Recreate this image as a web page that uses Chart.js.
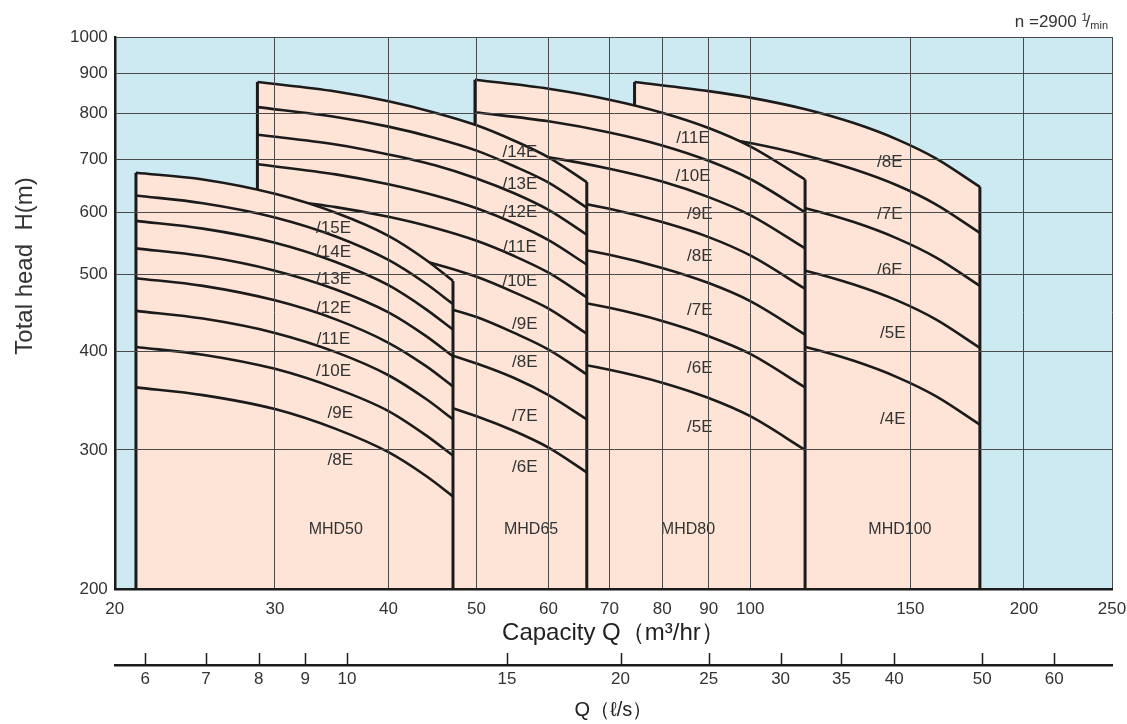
<!DOCTYPE html>
<html lang="en">
<head>
<meta charset="UTF-8">
<title>MHD performance curves</title>
<script src="https://cdn.jsdelivr.net/npm/chart.js@4"></script>
<style>
    body { margin: 0; background: #ffffff; }
    #wrap { width: 1127px; height: 724px; position: relative; }
</style>
</head>
<body>
<div id="wrap"><canvas id="chart"></canvas></div>
<script>
// axis ticks
const xTicks = [20, 30, 40, 50, 60, 70, 80, 90, 100, 150, 200, 250];
const yTicks = [200, 300, 400, 500, 600, 700, 800, 900, 1000];
const lpsTicks = [6, 7, 8, 9, 10, 15, 20, 25, 30, 35, 40, 50, 60];

// MHD50  (Q in m3/hr, H in m, one row per stage count)
const mhd50Q = [21.1, 25, 30, 35, 40, 44, 47.1];
const mhd50Stages = ['8E', '9E', '10E', '11E', '12E', '13E', '14E', '15E'];
const mhd50H = [
    [360, 352, 338, 319, 298, 278, 262],
    [405, 396, 380, 359, 336, 313, 295],
    [450, 440, 422, 399, 373, 348, 328],
    [495, 484, 464, 439, 410, 383, 361],
    [540, 528, 506, 479, 448, 418, 394],
    [585, 572, 549, 519, 485, 452, 426],
    [630, 616, 591, 559, 522, 487, 459],
    [673, 660, 633, 599, 560, 522, 491]
];
const mhd50LabelQ = [35.4, 35.4, 34.8, 34.8, 34.8, 34.8, 34.8, 34.8];
const mhd50LabelH = [291, 334, 377, 414, 454, 494, 533, 573];

// MHD65
const mhd65Q = [28.7, 35, 40, 45, 50, 55, 60, 66.1];
const mhd65Stages = ['6E', '7E', '8E', '9E', '10E', '11E', '12E', '13E', '14E'];
const mhd65H = [
    [376, 365, 355, 344, 331, 317, 302, 281],
    [439, 426, 414, 401, 386, 370, 352, 328],
    [502, 487, 474, 458, 442, 422, 402, 374],
    [564, 548, 533, 516, 497, 475, 453, 421],
    [627, 609, 592, 573, 552, 528, 503, 468],
    [690, 670, 651, 630, 607, 581, 553, 515],
    [752, 731, 710, 688, 662, 634, 604, 562],
    [815, 792, 770, 745, 718, 686, 654, 608],
    [877, 853, 829, 802, 773, 739, 704, 655]
];
const mhd65LabelQ = [56.5, 56.5, 56.5, 56.5, 55.8, 55.8, 55.8, 55.8, 55.8];
const mhd65LabelH = [285, 331, 387, 433, 490, 542, 599, 650, 715];

// MHD80
const mhd80Q = [49.8, 60, 70, 80, 90, 100, 114.9];
const mhd80Stages = ['5E', '6E', '7E', '8E', '9E', '10E', '11E'];
const mhd80H = [
    [402, 391, 379, 365, 349, 331, 300],
    [482, 469, 454, 437, 418, 397, 360],
    [562, 547, 530, 510, 488, 463, 420],
    [642, 626, 606, 583, 558, 529, 480],
    [723, 704, 681, 656, 627, 595, 540],
    [803, 782, 757, 729, 697, 661, 600],
    [883, 860, 833, 802, 767, 727, 660]
];
const mhd80LabelQ = [88, 88, 88, 88, 88, 86.5, 86.5];
const mhd80LabelH = [320, 381, 451, 528, 597, 667, 745];

// MHD100
const mhd100Q = [74.6, 90, 100, 115, 130, 145, 160, 178.9];
const mhd100Stages = ['4E', '5E', '6E', '7E', '8E'];
const mhd100H = [
    [438, 427, 419, 405, 389, 371, 351, 323],
    [548, 534, 524, 506, 486, 464, 439, 404],
    [658, 641, 629, 607, 583, 556, 526, 484],
    [767, 748, 734, 708, 680, 649, 614, 565],
    [877, 854, 838, 810, 778, 742, 702, 646]
];
const mhd100LabelQ = [143.5, 143.5, 142.4, 142.4, 142.4];
const mhd100LabelH = [328, 421, 507, 597, 693];

const modelNames = ['MHD50', 'MHD65', 'MHD80', 'MHD100'];
const modelNameQ = [35.0, 57.4, 85.4, 146.1];
const modelNameH = [238, 238, 238, 238];

const FONT = '"Liberation Sans", Arial, sans-serif';
const INK = '#1b1b1b';
const TEXT = '#333333';
const SKY = '#cde9f1';
const PEACH = '#fde4d6';
const GRID = '#4a4a4a';

// front model first: chart.js draws dataset 0 on top
const models = [
    { q: mhd50Q, heads: mhd50H, stages: mhd50Stages, lq: mhd50LabelQ, lh: mhd50LabelH },
    { q: mhd65Q, heads: mhd65H, stages: mhd65Stages, lq: mhd65LabelQ, lh: mhd65LabelH },
    { q: mhd80Q, heads: mhd80H, stages: mhd80Stages, lq: mhd80LabelQ, lh: mhd80LabelH },
    { q: mhd100Q, heads: mhd100H, stages: mhd100Stages, lq: mhd100LabelQ, lh: mhd100LabelH }
];

function points(q, h) {
    return q.map((v, i) => ({ x: v, y: h[i] }));
}

const datasets = [];
models.forEach(m => {
    const top = m.heads[m.heads.length - 1];
    const qMin = m.q[0];
    const qMax = m.q[m.q.length - 1];
    m.heads.forEach(h => {
        datasets.push({
            data: points(m.q, h),
            borderColor: INK,
            borderWidth: 2.6,
            cubicInterpolationMode: 'monotone'
        });
    });
    datasets.push({
        data: [{ x: qMin, y: yTicks[0] }, { x: qMin, y: top[0] }],
        borderColor: INK,
        borderWidth: 3
    });
    datasets.push({
        data: [{ x: qMax, y: top[top.length - 1] }, { x: qMax, y: yTicks[0] }],
        borderColor: INK,
        borderWidth: 3
    });
    datasets.push({
        data: points(m.q, top),
        borderColor: 'rgba(0,0,0,0)',
        borderWidth: 0,
        backgroundColor: PEACH,
        fill: 'start',
        cubicInterpolationMode: 'monotone'
    });
});
datasets.forEach(d => { d.xAxisID = 'x'; d.yAxisID = 'y'; d.pointRadius = 0; d.pointHoverRadius = 0; });

const backdrop = {
    id: 'backdrop',
    beforeDraw(chart) {
        const { ctx, chartArea: a } = chart;
        ctx.save();
        ctx.fillStyle = SKY;
        ctx.fillRect(a.left, a.top, a.right - a.left, a.bottom - a.top);
        ctx.restore();
    }
};

const curveLabels = {
    id: 'curveLabels',
    afterDatasetsDraw(chart) {
        const { ctx, scales: { x, y } } = chart;
        ctx.save();
        ctx.fillStyle = TEXT;
        ctx.font = '17px ' + FONT;
        ctx.textAlign = 'center';
        ctx.textBaseline = 'middle';
        models.forEach(m => {
            m.stages.forEach((s, i) => {
                ctx.fillText('/' + s, x.getPixelForValue(m.lq[i]), y.getPixelForValue(m.lh[i]));
            });
        });
        ctx.font = '16px ' + FONT;
        modelNames.forEach((n, i) => {
            ctx.fillText(n, x.getPixelForValue(modelNameQ[i]), y.getPixelForValue(modelNameH[i]));
        });
        ctx.restore();
    }
};

const extras = {
    id: 'extras',
    afterDraw(chart) {
        const { ctx, chartArea: a, scales: { x2 } } = chart;
        ctx.save();
        // l/s scale ticks point upwards from its line
        ctx.strokeStyle = INK;
        ctx.lineWidth = 1.5;
        lpsTicks.forEach(v => {
            const px = Math.round(x2.getPixelForValue(v)) + 0.5;
            ctx.beginPath();
            ctx.moveTo(px, x2.top);
            ctx.lineTo(px, x2.top - 12);
            ctx.stroke();
        });

        ctx.fillStyle = TEXT;
        ctx.font = '24px ' + FONT;
        ctx.textAlign = 'center';
        ctx.textBaseline = 'middle';
        ctx.save();
        ctx.translate(25, a.top + 229);
        ctx.rotate(-Math.PI / 2);
        ctx.fillText('Total head  H(m)', 0, 0);
        ctx.restore();

        // speed note, n = 2900 1/min
        ctx.textAlign = 'left';
        ctx.textBaseline = 'alphabetic';
        const main = 'n =2900 ';
        ctx.font = '17px ' + FONT;
        const w1 = ctx.measureText(main).width;
        const w3 = ctx.measureText('/').width;
        ctx.font = '11px ' + FONT;
        const w2 = ctx.measureText('1').width;
        const w4 = ctx.measureText('min').width;
        let sx = a.right - (w1 + w2 + w3 + w4) - 2;
        ctx.font = '17px ' + FONT;
        ctx.fillText(main, sx, 27);
        sx += w1;
        ctx.font = '11px ' + FONT;
        ctx.fillText('1', sx, 21);
        sx += w2 - 2;
        ctx.font = '17px ' + FONT;
        ctx.fillText('/', sx, 27);
        sx += w3;
        ctx.font = '11px ' + FONT;
        ctx.fillText('min', sx, 29);
        ctx.restore();
    }
};

function fixedTicks(list) {
    return scale => { scale.ticks = list.map(v => ({ value: v })); };
}

const tickFont = { size: 17, family: FONT, lineHeight: 1 };

new Chart(document.getElementById('chart'), {
    type: 'scatter',
    data: { datasets: datasets },
    options: {
        responsive: true,
        maintainAspectRatio: false,
        animation: false,
        events: [],
        showLine: true,
        layout: { padding: { left: 63, right: 15, top: 37, bottom: 2 } },
        plugins: {
            legend: { display: false },
            tooltip: { enabled: false }
        },
        scales: {
            x: {
                type: 'logarithmic',
                position: 'bottom',
                min: 20,
                max: 250,
                afterBuildTicks: fixedTicks(xTicks),
                ticks: {
                    callback: v => String(v),
                    autoSkip: false,
                    maxRotation: 0,
                    padding: 0,
                    color: TEXT,
                    // tall line box keeps the labels low without widening the right margin
                    font: { size: 17, family: FONT, lineHeight: 2.353 }
                },
                grid: { color: GRID, lineWidth: 1, drawTicks: false, z: 1 },
                border: { color: INK, width: 2.5, z: 2 },
                title: {
                    display: true,
                    text: 'Capacity Q（m³/hr）',
                    color: '#222',
                    font: { size: 24, family: FONT, lineHeight: 1 },
                    padding: { top: -8, bottom: 20 }
                }
            },
            x2: {
                type: 'logarithmic',
                position: 'bottom',
                weight: 1,
                min: 20 / 3.6,
                max: 250 / 3.6,
                afterBuildTicks: fixedTicks(lpsTicks),
                ticks: {
                    callback: v => String(v),
                    autoSkip: false,
                    maxRotation: 0,
                    padding: 5.5,
                    color: TEXT,
                    font: tickFont
                },
                grid: { display: false, drawTicks: false },
                border: { display: true, color: INK, width: 2.5 },
                title: {
                    display: true,
                    text: 'Q（ℓ/s）',
                    color: '#222',
                    font: { size: 20, family: FONT },
                    padding: { top: 5, bottom: 0 }
                }
            },
            y: {
                type: 'logarithmic',
                min: 200,
                max: 1000,
                afterBuildTicks: fixedTicks(yTicks),
                ticks: {
                    callback: v => String(v),
                    autoSkip: false,
                    padding: 7,
                    color: TEXT,
                    font: tickFont
                },
                grid: { color: GRID, lineWidth: 1, drawTicks: false, z: 1 },
                border: { color: INK, width: 2.5, z: 2 }
            }
        }
    },
    plugins: [backdrop, curveLabels, extras]
});
</script>
</body>
</html>
